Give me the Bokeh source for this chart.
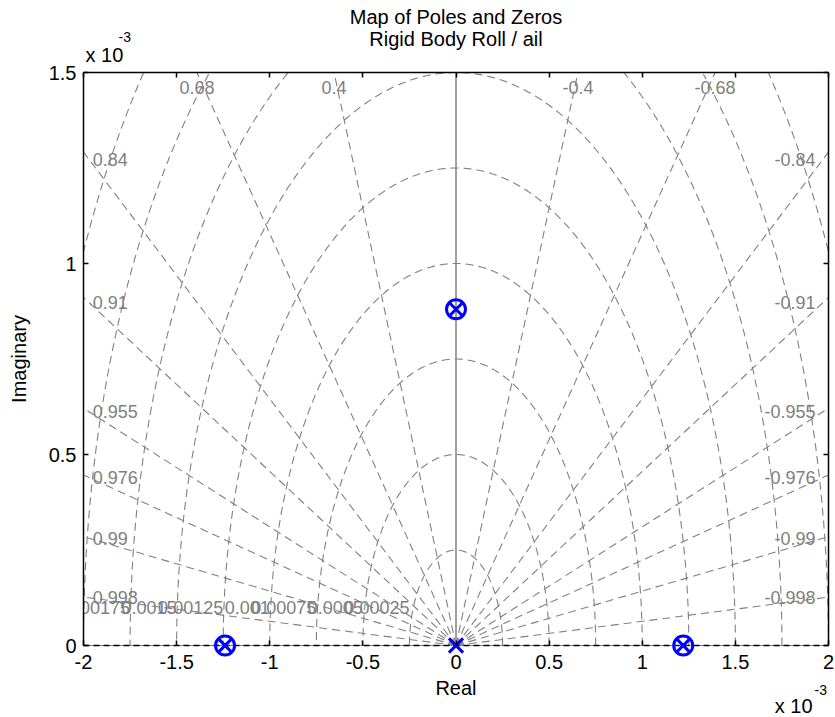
import numpy as np
from bokeh.plotting import figure
from bokeh.models import Range1d, FixedTicker, LinearAxis, Label, CustomJSTickFormatter, ColumnDataSource
from bokeh.embed import file_html
from bokeh.resources import INLINE
from bokeh.core.properties import value

# ---------------- data (all axis values in units of 1e-3) ----------------
TITLE_LINE1 = "Map of Poles and Zeros"
TITLE_LINE2 = "Rigid Body Roll / ail"
X_LABEL = "Real"
Y_LABEL = "Imaginary"
SCALE_TEXT = "x 10"
SCALE_EXP = "-3"

x_ticks = [-2, -1.5, -1, -0.5, 0, 0.5, 1, 1.5, 2]
y_ticks = [0, 0.5, 1, 1.5]

poles_re = [-1.24, 0.0, 1.22, 0.0]
poles_im = [0.0, 0.88, 0.0, 0.0]
zeros_re = [-1.24, 0.0, 1.22]
zeros_im = [0.0, 0.88, 0.0]

zeta_values = [0.4, 0.68, 0.84, 0.91, 0.955, 0.976, 0.99, 0.998]
wn_values = [0.25, 0.5, 0.75, 1.0, 1.25, 1.5, 1.75, 2.0, 2.25, 2.5]

# ---------------- layout / styling ----------------
FONT = "Liberation Sans"
GRAY = "#808080"
BLUE = "#0000FF"
XMIN, XMAX, YMIN, YMAX = -2, 2, 0, 1.5
W, H = 835, 717
BOX_L, BOX_R, BOX_T, BOX_B = 83, 828, 72, 645      # axes box in page pixels
PX = (BOX_R - BOX_L) / (XMAX - XMIN)
PY = (BOX_B - BOX_T) / (YMAX - YMIN)
X0, X1 = XMIN - BOX_L / PX, XMAX + (W - BOX_R) / PX
Y0, Y1 = YMIN - (H - BOX_B) / PY, YMAX + BOX_T / PY

p = figure(width=W, height=H, x_range=Range1d(X0, X1), y_range=Range1d(Y0, Y1),
           output_backend="svg", toolbar_location=None,
           x_axis_location=None, y_axis_location=None, min_border=0)
p.title.visible = False
p.grid.visible = False
p.outline_line_color = None
p.background_fill_color = "white"
p.border_fill_color = "white"

fmt = CustomJSTickFormatter(code="return String(tick);")

def make_axis(ticks, loc, bounds, show_labels=True):
    ax = LinearAxis(ticker=FixedTicker(ticks=ticks), formatter=fmt,
                    fixed_location=loc, bounds=bounds)
    ax.major_tick_in = 5
    ax.major_tick_out = 0
    ax.minor_tick_in = 0
    ax.minor_tick_out = 0
    ax.axis_line_color = "black"
    ax.axis_line_width = 1.5
    ax.major_tick_line_color = "black"
    ax.major_tick_line_width = 1.5
    ax.major_label_text_font = FONT
    ax.major_label_text_font_size = "20px"
    ax.major_label_text_color = "black" if show_labels else None
    ax.axis_label_text_font = FONT
    ax.axis_label_text_font_style = "normal"
    ax.axis_label_text_color = "black"
    ax.axis_label_text_font_size = "20px"
    return ax

# ---------------- s-plane grid (clipped to the axes box) ----------------
dash = "8 5"
zx_l, zy_l = [], []
side_lbl = dict(x=[], y=[], text=[], align=[])
top_lbl = dict(x=[], y=[], text=[])
for z in zeta_values:
    s = np.sqrt(1 - z * z)
    slope = s / z
    r = min(XMAX / z, YMAX / s)
    for sign in (-1, 1):
        zx_l.append([0.0, sign * r * z])
        zy_l.append([0.0, r * s])
        txt = ("%g" % z) if sign < 0 else ("-%g" % z)
        if XMAX * slope <= YMAX:
            side_lbl["x"].append(-1.95 if sign < 0 else 1.93)
            side_lbl["y"].append(1.97 * slope)
            side_lbl["text"].append(txt)
            side_lbl["align"].append("left" if sign < 0 else "right")
        else:
            top_lbl["x"].append(sign * YMAX / slope)
            top_lbl["y"].append(1.46)
            top_lbl["text"].append(txt)

th = np.linspace(0, np.pi, 600)
cx, cy = [], []
for w in wn_values:
    xs = w * np.cos(th)
    ys = w * np.sin(th)
    out = (np.abs(xs) > XMAX) | (ys > YMAX)
    xs = np.where(out, np.nan, xs)
    ys = np.where(out, np.nan, ys)
    cx.append(list(xs))
    cy.append(list(ys))

p.line([XMIN, XMAX], [0, 0], line_color=GRAY, line_width=1)
p.line([0, 0], [0, YMAX], line_color=GRAY, line_width=1.5)
p.multi_line(zx_l, zy_l, line_color=GRAY, line_width=1.1, line_dash=dash)
p.multi_line(cx, cy, line_color=GRAY, line_width=1.1, line_dash=dash)

lbl_size = "18px"
p.text(x="x", y="y", text="text", text_align="align", source=ColumnDataSource(side_lbl),
       text_baseline="middle", text_color=GRAY, text_font=value(FONT), text_font_size=lbl_size)
p.text(x="x", y="y", text="text", source=ColumnDataSource(top_lbl), text_align="center",
       text_baseline="middle", text_color=GRAY, text_font=value(FONT), text_font_size=lbl_size)
wn_lab = [w for w in wn_values if -w > XMIN]     # labels whose anchor lies inside the box
wn_src = ColumnDataSource(dict(x=[-w for w in wn_lab], y=[0.1] * len(wn_lab),
                               text=["%g" % (w * 1e-3) for w in wn_lab]))
p.text(x="x", y="y", text="text", source=wn_src, text_align="right", text_baseline="middle",
       text_color=GRAY, text_font=value(FONT), text_font_size=lbl_size)
# the axes box clips the natural-frequency labels on its left side
p.quad(left=[X0], right=[XMIN], bottom=[YMIN], top=[0.3], fill_color="white", line_color=None)

# real axis: dashed black line at y = 0 with inside ticks
p.line([XMIN, XMAX], [0, 0], line_color="black", line_width=1.5, line_dash="6 4")

# ---------------- axes ----------------
xb = make_axis(x_ticks, YMIN, (XMIN, XMAX))
xb.axis_line_color = None
xb.major_tick_line_color = "black"
xb.axis_label = X_LABEL
xb.major_label_standoff = 9
xb.axis_label_standoff = 5
p.add_layout(xb, "below")

yl = make_axis(y_ticks, XMIN, (YMIN, YMAX))
yl.axis_label = Y_LABEL
yl.major_label_standoff = 7
yl.axis_label_standoff = 16
p.add_layout(yl, "left")

xt = make_axis(x_ticks, YMAX, (XMIN, XMAX), show_labels=False)
p.add_layout(xt, "above")
yr = make_axis(y_ticks, XMAX, (YMIN, YMAX), show_labels=False)
p.add_layout(yr, "right")

# ---------------- poles and zeros ----------------
p.scatter(zeros_re, zeros_im, marker="circle", size=19, fill_color=None,
          line_color=BLUE, line_width=3)
p.scatter(poles_re, poles_im, marker="x", size=20, line_color=BLUE, line_width=3)

# ---------------- titles and scale labels ----------------
def add_label(x, y, text, xo, yo, size, align="left"):
    p.add_layout(Label(x=x, y=y, text=text, x_offset=xo, y_offset=yo,
                       text_align=align, text_baseline="middle",
                       text_font=FONT, text_font_size=size, text_color="black"))

add_label(0, YMAX, TITLE_LINE1, 0, 56, "20px", "center")
add_label(0, YMAX, TITLE_LINE2, 0, 34, "20px", "center")
add_label(XMIN, YMAX, SCALE_TEXT, 2, 18, "20px")
add_label(XMIN, YMAX, SCALE_EXP, 35, 36, "14px")
add_label(XMAX, YMIN, SCALE_TEXT, -16, -60, "20px", "right")
add_label(XMAX, YMIN, SCALE_EXP, -14, -44, "14px")

open("out.html", "w").write(file_html(p, INLINE))
